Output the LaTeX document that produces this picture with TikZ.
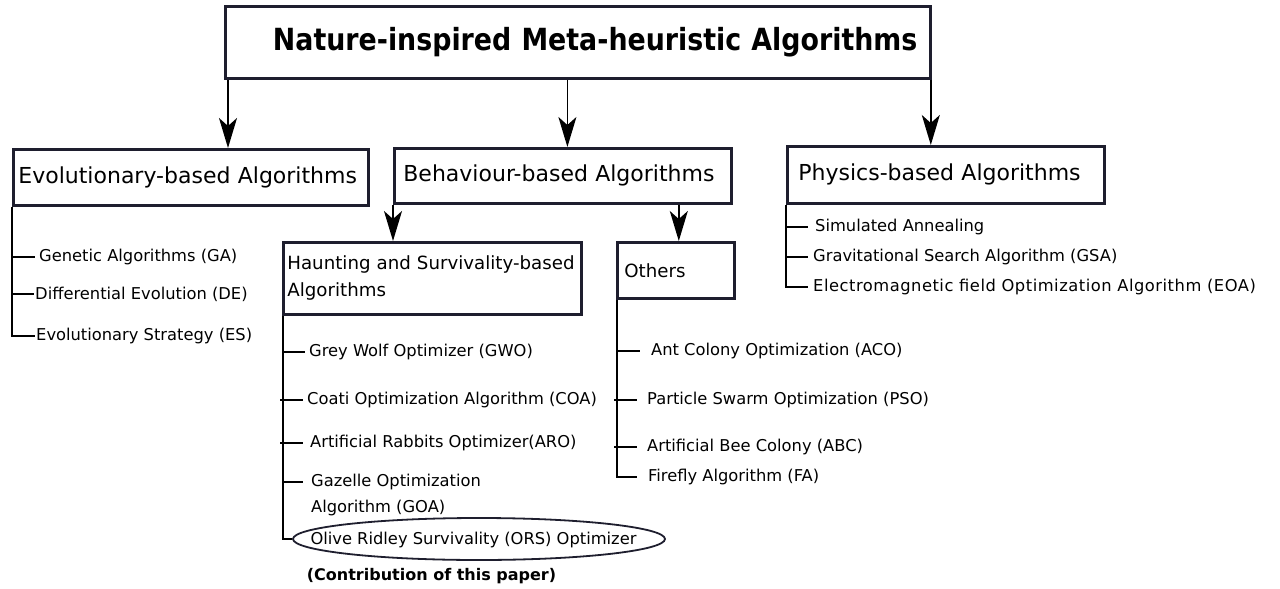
\documentclass[tikz,border=0pt]{standalone}
\usepackage{fontspec}
\setmainfont{DejaVu Sans}
\newfontfamily\titlefont{DejaVu Sans}[FakeStretch=0.88]
\usetikzlibrary{arrows.meta,shapes.geometric,calc}
\definecolor{boxc}{HTML}{1E1E2E}
\begin{document}
\begin{tikzpicture}[x=1pt,y=-1pt,
  box/.style={draw=boxc, line width=2.8pt, anchor=north west, align=left, inner ysep=0pt},
  bigtxt/.style={font=\fontsize{22}{26}\selectfont},
  midtxt/.style={font=\fontsize{18.2}{27}\selectfont},
  item/.style={anchor=west, inner sep=0pt, align=left, font=\fontsize{16.3}{26}\selectfont},
  tree/.style={line width=1.4pt, black},
  arr/.style={line width=1.6pt, black, -{Stealth[length=30pt,width=18pt,inset=8pt]}}]
\useasboundingbox (0,0) rectangle (1280,589);
% boxes
\node[box, minimum height=72pt, text width=679pt, inner xsep=13pt, align=right,
      font={\titlefont\bfseries\fontsize{30.5}{36}\selectfont}] (top) at (224,5) {Nature-inspired Meta-heuristic Algorithms};
\node[box, bigtxt, minimum height=56pt, text width=345pt, inner xsep=5pt] (evo) at (12,148) {Evolutionary-based Algorithms};
\node[box, bigtxt, minimum height=55pt, text width=319pt, inner xsep=9pt] (beh) at (393,147) {Behaviour-based Algorithms};
\node[box, bigtxt, minimum height=57pt, text width=295pt, inner xsep=11pt] (phy) at (786,145) {Physics-based Algorithms};
\node[box, midtxt, minimum height=72pt, text width=290pt, inner xsep=4pt] (haunt) at (282,241) {Haunting and Survivality-based\\Algorithms};
\node[box, midtxt, minimum height=56pt, text width=103pt, inner xsep=7pt] (oth) at (616,241) {Others};
% arrows
\draw[arr] ([xshift=4pt]top.south west) -- ([xshift=4pt]top.south west |- evo.north);
\draw[arr] ([xshift=4.5pt]beh.north |- top.south) -- ([xshift=4.5pt]beh.north);
\draw[arr] ([xshift=-1pt]top.south east) -- ([xshift=-1pt]top.south east |- phy.north);
\draw[arr] (beh.south west) -- (beh.south west |- haunt.north);
\draw[arr] ([xshift=-54pt]beh.south east) -- ([xshift=-54pt]beh.south east |- oth.north);
% evolutionary items
\node[item] (ga) at (39,257) {Genetic Algorithms (GA)};
\node[item] (de) at (35,294) {Differential Evolution (DE)};
\node[item] (es) at (36,336) {Evolutionary Strategy (ES)};
\draw[tree] (evo.south west) |- ([xshift=-1pt]es.west);
\draw[tree] (evo.south west |- ga.west) -- ([xshift=-4pt]ga.west);
\draw[tree] (evo.south west |- de.west) -- ([xshift=-1pt]de.west);
% haunting items
\node[item] (gwo) at (309,352) {Grey Wolf Optimizer (GWO)};
\node[item] (coa) at (307,400) {Coati Optimization Algorithm (COA)};
\node[item] (aro) at (310,443) {Artificial Rabbits Optimizer(ARO)};
\node[item, anchor=north west] (goa) at (311,474) {Gazelle Optimization\\Algorithm (GOA)};
\node[item, anchor=center] (ors) at (473.5,540) {Olive Ridley Survivality (ORS) Optimizer};
\node[draw=boxc, line width=1.8pt, ellipse, minimum width=372pt, minimum height=42pt, inner sep=0pt] (ring) at (479,539) {};
\node[inner sep=0pt, font=\bfseries\fontsize{16}{19}\selectfont] (contrib) at (431.5,576) {(Contribution of this paper)};
\draw[tree] ([xshift=1pt]haunt.south west) |- (ring.west);
\draw[tree] ([xshift=1pt]haunt.south west |- gwo.west) -- ([xshift=-4pt]gwo.west);
\draw[tree] ([xshift=-2pt]haunt.south west |- coa.west) -- ([xshift=-4pt]coa.west);
\draw[tree] ([xshift=-2pt]haunt.south west |- aro.west) -- ([xshift=-7pt]aro.west);
\draw[tree] ([xshift=1pt,yshift=-8pt]haunt.south west |- goa.north west) -- ([xshift=-8pt,yshift=-8pt]goa.north west);
% others items
\node[item] (aco) at (651,351) {Ant Colony Optimization (ACO)};
\node[item] (pso) at (647,400) {Particle Swarm Optimization (PSO)};
\node[item] (abc) at (647,447) {Artificial Bee Colony (ABC)};
\node[item] (fa) at (648,477) {Firefly Algorithm (FA)};
\draw[tree] ([xshift=1pt]oth.south west) |- ([xshift=-11pt]fa.west);
\draw[tree] ([xshift=1pt]oth.south west |- aco.west) -- ([xshift=-11pt]aco.west);
\draw[tree] ([xshift=-2pt]oth.south west |- pso.west) -- ([xshift=-10pt]pso.west);
\draw[tree] ([xshift=-2pt]oth.south west |- abc.west) -- ([xshift=-10pt]abc.west);
% physics items
\node[item] (sa) at (815,227) {Simulated Annealing};
\node[item] (gsa) at (813,257) {Gravitational Search Algorithm (GSA)};
\node[item, font={\fontsize{16.3}{26}\selectfont\addfontfeature{LetterSpace=3.2}}] (eoa) at (813,287) {Electromagnetic field Optimization Algorithm (EOA)};
\draw[tree] (phy.south west) |- ([xshift=-5pt]eoa.west);
\draw[tree] (phy.south west |- sa.west) -- ([xshift=-7pt]sa.west);
\draw[tree] (phy.south west |- gsa.west) -- ([xshift=-5pt]gsa.west);
\end{tikzpicture}
\end{document}
